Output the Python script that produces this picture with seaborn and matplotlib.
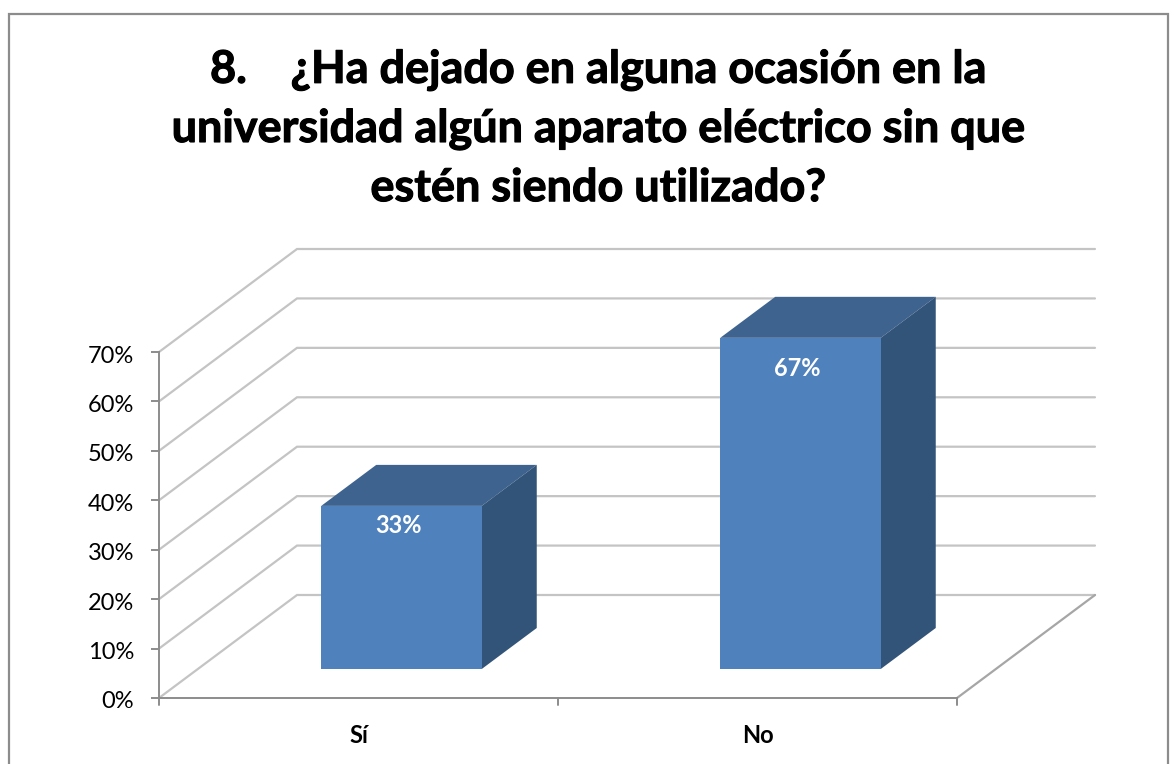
import numpy as np
import pandas as pd
import matplotlib
matplotlib.use("Agg")
import matplotlib.pyplot as plt
import matplotlib.patheffects as pe
from matplotlib.patches import Rectangle, Polygon
from matplotlib.transforms import Affine2D
import seaborn as sns

categories = ["Sí", "No"]
values = [0.33, 0.67]
y_ticks = [0, 0.1, 0.2, 0.3, 0.4, 0.5, 0.6, 0.7]
title = "8.    ¿Ha dejado en alguna ocasión en la\nuniversidad algún aparato eléctrico sin que\nestén siendo utilizado?"

W, H = 1175, 764
sns.set_theme(style="white")
plt.rcParams["font.family"] = ["Lato", "DejaVu Sans"]

fig = plt.figure(figsize=(W / 100, H / 100), dpi=100, facecolor="white")
# Frame
fig.add_artist(Rectangle((8.5 / W, -0.02), (1168 - 8.5) / W, (H - 14) / H + 0.02,
                         transform=fig.transFigure, fill=False, ec="#8c8c8c", lw=1.6))

left, right, y0, y7 = 159, 957, 698, 352
ax = fig.add_axes([left / W, (H - y0) / H, (right - left) / W, (y0 - y7) / H])
ax.patch.set_alpha(0)

df = pd.DataFrame({"cat": categories, "val": values})
sns.barplot(data=df, x="cat", y="val", ax=ax, width=160.5 / 399, color="#4f81bd",
            saturation=1, zorder=5)
ax.set_xlim(-0.5, 1.5)
ax.set_ylim(0, 0.7)
px_x = 2 / (right - left)        # data units per pixel
px_y = 0.7 / (y0 - y7)

# walls
wx, wy = 138 * px_x, 103 * px_y
grid = "#c4c4c4"
for t in y_ticks:
    ax.plot([-0.5, -0.5 + wx, 1.5 + wx], [t, t + wy, t + wy], color=grid, lw=1.6,
            clip_on=False, zorder=1, solid_joinstyle="miter")
ax.plot([1.5, 1.5 + wx], [0, wy], color="#a6a6a6", lw=1.6, clip_on=False, zorder=1)

# bars: shift forward and add depth
off_x, off_y = 43 * px_x, 29 * px_y
dx, dy = 55 * px_x, 41 * px_y
label_drop = (20, 31)
for p, v, drop in zip(ax.patches, values, label_drop):
    x0 = p.get_x() + off_x
    w = p.get_width()
    p.set_x(x0)
    p.set_y(off_y)
    p.set_clip_on(False)
    p.set_linewidth(0)
    b, t = off_y, off_y + v
    ax.add_patch(Polygon([(x0, t), (x0 + dx, t + dy), (x0 + w + dx, t + dy), (x0 + w, t)],
                         fc="#3e638f", ec="none", clip_on=False, zorder=4))
    ax.add_patch(Polygon([(x0 + w, b), (x0 + w + dx, b + dy), (x0 + w + dx, t + dy), (x0 + w, t)],
                         fc="#335479", ec="none", clip_on=False, zorder=4))
    ax.text(x0 + w / 2 - 3 * px_x, t - drop * px_y, f"{v:.0%}", color="white", fontsize=17,
            fontweight="bold", ha="center", va="center", zorder=6)

# axes
for s in ("top", "right"):
    ax.spines[s].set_visible(False)
for s in ("left", "bottom"):
    ax.spines[s].set_color("#8c8c8c")
    ax.spines[s].set_linewidth(1.4)
ax.set_yticks(y_ticks)
ax.set_yticklabels([f"{t:.0%}" for t in y_ticks], fontsize=17, color="black")
ax.set_xticks([0, 1])
ax.set_xticklabels(categories, fontsize=17, fontweight="bold", color="black")
ax.set_xlabel("")
ax.set_ylabel("")
ax.tick_params(axis="y", length=6, width=1.4, color="#8c8c8c", pad=12, left=True)
ax.tick_params(axis="x", length=0, pad=19)
for lab in ax.get_yticklabels():
    lab.set_transform(lab.get_transform() + Affine2D().translate(0, -2))
for xt in (-0.5, 0.5, 1.5):
    ax.plot([xt, xt], [0, -7 * px_y], color="#8c8c8c", lw=1.4, clip_on=False)

fig.text(598 / W, 1 - 129 / H, title, fontsize=32.4, fontweight="bold", color="black",
         ha="center", va="center", linespacing=1.49,
         path_effects=[pe.withStroke(linewidth=0.8, foreground="black")])

fig.savefig("out.png", dpi=100)
